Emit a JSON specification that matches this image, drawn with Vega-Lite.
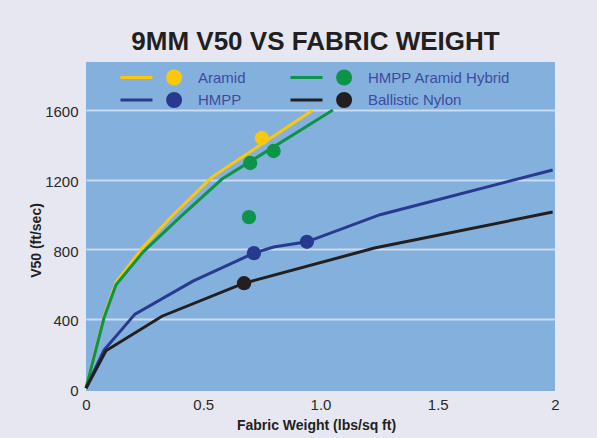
{
  "$schema": "https://vega.github.io/schema/vega-lite/v6.json",
  "width": 469,
  "height": 329,
  "autosize": {"type": "none"},
  "padding": {"left": 86, "top": 62, "right": 42, "bottom": 47},
  "background": "#e7e7f1",
  "title": {
    "text": "9MM V50 VS FABRIC WEIGHT",
    "font": "Liberation Sans",
    "fontSize": 26,
    "fontWeight": "bold",
    "color": "#231f20",
    "anchor": "middle",
    "frame": "group",
    "baseline": "alphabetic",
    "offset": 15,
    "dy": 29,
    "dx": -5
  },
  "config": {
    "view": {"stroke": null, "fill": "#84b0de"},
    "font": "Liberation Sans"
  },
  "data": {
    "values": [
      {"series": "Aramid", "kind": "line", "w": 0, "v": 0},
      {"series": "Aramid", "kind": "line", "w": 0.077, "v": 415},
      {"series": "Aramid", "kind": "line", "w": 0.128, "v": 610},
      {"series": "Aramid", "kind": "line", "w": 0.243, "v": 811},
      {"series": "Aramid", "kind": "line", "w": 0.371, "v": 996},
      {"series": "Aramid", "kind": "line", "w": 0.537, "v": 1214},
      {"series": "Aramid", "kind": "line", "w": 0.968, "v": 1600},
      {"series": "HMPP Aramid Hybrid", "kind": "line", "w": 0, "v": 0},
      {"series": "HMPP Aramid Hybrid", "kind": "line", "w": 0.077, "v": 405},
      {"series": "HMPP Aramid Hybrid", "kind": "line", "w": 0.128, "v": 595},
      {"series": "HMPP Aramid Hybrid", "kind": "line", "w": 0.243, "v": 783},
      {"series": "HMPP Aramid Hybrid", "kind": "line", "w": 0.401, "v": 984},
      {"series": "HMPP Aramid Hybrid", "kind": "line", "w": 0.58, "v": 1203},
      {"series": "HMPP Aramid Hybrid", "kind": "line", "w": 1.053, "v": 1600},
      {"series": "HMPP", "kind": "line", "w": 0, "v": 0},
      {"series": "HMPP", "kind": "line", "w": 0.077, "v": 219},
      {"series": "HMPP", "kind": "line", "w": 0.209, "v": 426},
      {"series": "HMPP", "kind": "line", "w": 0.456, "v": 616},
      {"series": "HMPP", "kind": "line", "w": 0.716, "v": 777},
      {"series": "HMPP", "kind": "line", "w": 0.8, "v": 812},
      {"series": "HMPP", "kind": "line", "w": 0.942, "v": 842},
      {"series": "HMPP", "kind": "line", "w": 1.254, "v": 998},
      {"series": "HMPP", "kind": "line", "w": 1.99, "v": 1255},
      {"series": "Ballistic Nylon", "kind": "line", "w": 0, "v": 0},
      {"series": "Ballistic Nylon", "kind": "line", "w": 0.085, "v": 215},
      {"series": "Ballistic Nylon", "kind": "line", "w": 0.324, "v": 414},
      {"series": "Ballistic Nylon", "kind": "line", "w": 0.674, "v": 604},
      {"series": "Ballistic Nylon", "kind": "line", "w": 1.23, "v": 806},
      {"series": "Ballistic Nylon", "kind": "line", "w": 1.99, "v": 1013},
      {"series": "Aramid", "kind": "point", "w": 0.75, "v": 1439},
      {"series": "HMPP Aramid Hybrid", "kind": "point", "w": 0.8, "v": 1364},
      {"series": "HMPP Aramid Hybrid", "kind": "point", "w": 0.7, "v": 1295},
      {"series": "HMPP Aramid Hybrid", "kind": "point", "w": 0.695, "v": 984},
      {"series": "HMPP", "kind": "point", "w": 0.716, "v": 777},
      {"series": "HMPP", "kind": "point", "w": 0.942, "v": 842},
      {"series": "Ballistic Nylon", "kind": "point", "w": 0.674, "v": 604}
    ]
  },
  "encoding": {
    "x": {
      "field": "w",
      "type": "quantitative",
      "scale": {"domain": [0, 2], "nice": false, "zero": false},
      "axis": {
        "values": [0, 0.5, 1, 1.5, 2],
        "labelExpr": "datum.value == 0 ? '0' : datum.value == 2 ? '2' : format(datum.value, '.1f')",
        "grid": false,
        "domain": false,
        "ticks": false,
        "labelPadding": 6,
        "labelFont": "Liberation Sans",
        "labelFontSize": 15,
        "labelColor": "#2a2a2a",
        "labelFlush": false,
        "title": "Fabric Weight (lbs/sq ft)",
        "titleFont": "Liberation Sans",
        "titleFontSize": 14,
        "titleFontWeight": "bold",
        "titleColor": "#231f20",
        "titleX": 230,
        "titleY": 34,
        "titleBaseline": "middle"
      }
    },
    "y": {
      "field": "v",
      "type": "quantitative",
      "scale": {"domain": [-16, 1876], "nice": false, "zero": false},
      "axis": {
        "values": [0, 400, 800, 1200, 1600],
        "format": "d",
        "grid": true,
        "gridColor": {"condition": {"test": "datum.value == 0", "value": "transparent"}, "value": "#cadcf0"},
        "gridWidth": 2,
        "domain": false,
        "ticks": false,
        "labelPadding": 8,
        "labelOffset": 2,
        "labelFont": "Liberation Sans",
        "labelFontSize": 15,
        "labelColor": "#2a2a2a",
        "title": "V50 (ft/sec)",
        "titleFont": "Liberation Sans",
        "titleFontSize": 14,
        "titleFontWeight": "bold",
        "titleColor": "#231f20",
        "titleX": -43,
        "titleY": 178,
        "titleAngle": -90,
        "titleBaseline": "bottom",
        "titleAlign": "center"
      }
    }
  },
  "layer": [
    {
      "data": {"values": [{}]},
      "mark": {"type": "rect", "color": "#e6eef9"},
      "encoding": {
        "x": {"datum": 0, "type": "quantitative"},
        "x2": {"datum": 2},
        "y": {"datum": 1600, "type": "quantitative"},
        "y2": {"datum": 1876}
      }
    },
    {
      "transform": [{"filter": "datum.kind == 'line'"}],
      "mark": {"type": "line", "strokeWidth": 3},
      "encoding": {
        "color": {
          "field": "series",
          "type": "nominal",
          "scale": {
            "domain": ["Aramid", "HMPP Aramid Hybrid", "HMPP", "Ballistic Nylon"],
            "range": ["#fdc70c", "#0c9448", "#283a8f", "#231f20"]
          },
          "legend": {
            "title": null,
            "orient": "none",
            "legendX": 33,
            "legendY": 5.5,
            "columns": 2,
            "direction": "horizontal",
            "symbolType": "M-1,0H3M4.8875,0A0.8125,0.8125,0,1,1,6.5125,0A0.8125,0.8125,0,1,1,4.8875,0Z",
            "symbolSize": 256,
            "symbolStrokeWidth": 3,
            "labelFont": "Liberation Sans",
            "labelFontSize": 15,
            "labelColor": "#3d4c9e",
            "labelOffset": 60,
            "columnPadding": 38,
            "rowPadding": -10,
            "padding": 0,
            "encode": {
              "symbols": {
                "update": {
                  "fill": {"scale": "color", "field": "value"},
                  "stroke": {"scale": "color", "field": "value"},
                  "strokeWidth": {"value": 3},
                  "opacity": {"value": 1},
                  "fillOpacity": {"value": 1}
                }
              }
            }
          }
        }
      }
    },
    {
      "transform": [{"filter": "datum.kind == 'point'"}],
      "mark": {"type": "circle", "size": 205, "opacity": 1},
      "encoding": {
        "color": {"field": "series", "type": "nominal"}
      }
    }
  ]
}
